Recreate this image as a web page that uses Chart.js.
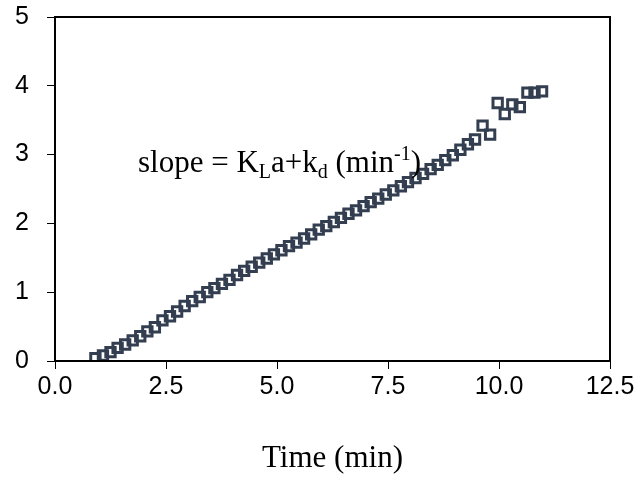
<!DOCTYPE html>
<html>
<head>
<meta charset="utf-8">
<script src="https://cdn.jsdelivr.net/npm/chart.js@4.4.0/dist/chart.umd.min.js"></script>
<style>
    html, body { margin: 0; padding: 0; background: #fff; }
    #wrap { width: 641px; height: 494px; }
</style>
</head>
<body>
<div id="wrap"><canvas id="chart1" width="641" height="494"></canvas></div>
<script>
// Tempo (min) de cada leitura
const tempo = [
    0.91, 1.08, 1.25, 1.41, 1.58, 1.75, 1.92, 2.08, 2.25, 2.42,
    2.59, 2.75, 2.92, 3.09, 3.26, 3.43, 3.59, 3.76, 3.93, 4.10,
    4.26, 4.43, 4.60, 4.77, 4.93, 5.10, 5.27, 5.44, 5.61, 5.77,
    5.94, 6.11, 6.28, 6.44, 6.61, 6.78, 6.95, 7.11, 7.28, 7.45,
    7.62, 7.79, 7.95, 8.12, 8.29, 8.46, 8.62, 8.79, 8.96, 9.13,
    9.30, 9.46, 9.63, 9.80, 9.97, 10.13, 10.30, 10.47, 10.64, 10.80,
    10.97
];
// Valores lidos no eixo y
const valores = [
    0.04, 0.08, 0.13, 0.19, 0.24, 0.30, 0.36, 0.43, 0.49, 0.59,
    0.65, 0.72, 0.80, 0.87, 0.93, 1.00, 1.06, 1.12, 1.18, 1.25,
    1.31, 1.37, 1.43, 1.49, 1.55, 1.61, 1.67, 1.72, 1.78, 1.84,
    1.91, 1.96, 2.02, 2.08, 2.14, 2.19, 2.25, 2.31, 2.36, 2.42,
    2.48, 2.54, 2.60, 2.66, 2.72, 2.79, 2.85, 2.92, 2.99, 3.07,
    3.15, 3.22, 3.42, 3.29, 3.75, 3.59, 3.73, 3.69, 3.90, 3.90,
    3.92
];
const ticksX = [0, 2.5, 5, 7.5, 10, 12.5];
const rotulosX = ["0.0", "2.5", "5.0", "7.5", "10.0", "12.5"];
const ticksY = [0, 1, 2, 3, 4, 5];
const rotulosY = ["0", "1", "2", "3", "4", "5"];

// Partes do texto da inclinação: [texto, tipo]
const textoSlope = [
    ["slope = K", "n"], ["L", "sub"], ["a+k", "n"], ["d", "sub"],
    [" (min", "n"], ["-1", "sup"], [")", "n"]
];

const fonteEixo = { family: "Liberation Sans, Arial, sans-serif", size: 25 };

// Moldura do gráfico e anotação
const moldura = {
    id: "moldura",
    afterDraw(chart) {
        const ctx = chart.ctx;
        const a = chart.chartArea;
        ctx.save();
        ctx.strokeStyle = "#000";
        ctx.lineWidth = 2;
        ctx.strokeRect(a.left, a.top, a.right - a.left, a.bottom - a.top);

        let x = chart.scales.x.getPixelForValue(1.87);
        const y = chart.scales.y.getPixelForValue(2.75);
        ctx.fillStyle = "#000";
        ctx.textBaseline = "alphabetic";
        textoSlope.forEach(([t, tipo]) => {
            let dy = 0;
            if (tipo === "n") {
                ctx.font = "31px 'Liberation Serif', 'Times New Roman', serif";
            } else {
                ctx.font = "20px 'Liberation Serif', 'Times New Roman', serif";
                dy = tipo === "sub" ? 6 : -12;
            }
            ctx.fillText(t, x, y + dy);
            x += ctx.measureText(t).width;
        });
        ctx.restore();
    }
};

const ctx1 = document.getElementById("chart1").getContext("2d");
const chart1 = new Chart(ctx1, {
    type: "scatter",
    data: {
        datasets: [{
            label: "dados",
            data: tempo.map((t, i) => ({ x: t, y: valores[i] })),
            pointStyle: "rect",
            pointRadius: 6.6,
            pointBorderWidth: 3,
            borderColor: "#333e50",
            backgroundColor: "rgba(0,0,0,0)",
            showLine: false
        }]
    },
    options: {
        responsive: false,
        animation: false,
        layout: { padding: { top: 17, right: 31, bottom: 0, left: 0 } },
        plugins: { legend: { display: false }, tooltip: { enabled: false } },
        scales: {
            x: {
                type: "linear",
                min: 0,
                max: 12.5,
                afterBuildTicks: s => { s.ticks = ticksX.map(v => ({ value: v })); },
                afterFit: s => { s.height = 133; },
                ticks: {
                    callback: (v, i) => rotulosX[i],
                    font: fonteEixo,
                    color: "#000",
                    padding: 3,
                    maxRotation: 0,
                    autoSkip: false
                },
                grid: { drawOnChartArea: false, drawTicks: true, tickLength: 8, color: "#000", lineWidth: 1 },
                border: { display: true, color: "#000", width: 2 },
                title: {
                    display: true,
                    text: "Time (min)",
                    color: "#000",
                    font: { family: "Liberation Serif, Times New Roman, serif", size: 31 },
                    padding: { top: 0, bottom: 17 }
                }
            },
            y: {
                type: "linear",
                min: 0,
                max: 5,
                afterBuildTicks: s => { s.ticks = ticksY.map(v => ({ value: v })); },
                afterFit: s => { s.width = 55; s.paddingTop = 0; s.paddingBottom = 0; },
                ticks: {
                    callback: (v, i) => rotulosY[i],
                    font: fonteEixo,
                    color: "#000",
                    padding: 18,
                    autoSkip: false
                },
                grid: { drawOnChartArea: false, drawTicks: true, tickLength: 8, color: "#000", lineWidth: 1 },
                border: { display: true, color: "#000", width: 2 }
            }
        }
    },
    plugins: [moldura]
});
</script>
</body>
</html>
